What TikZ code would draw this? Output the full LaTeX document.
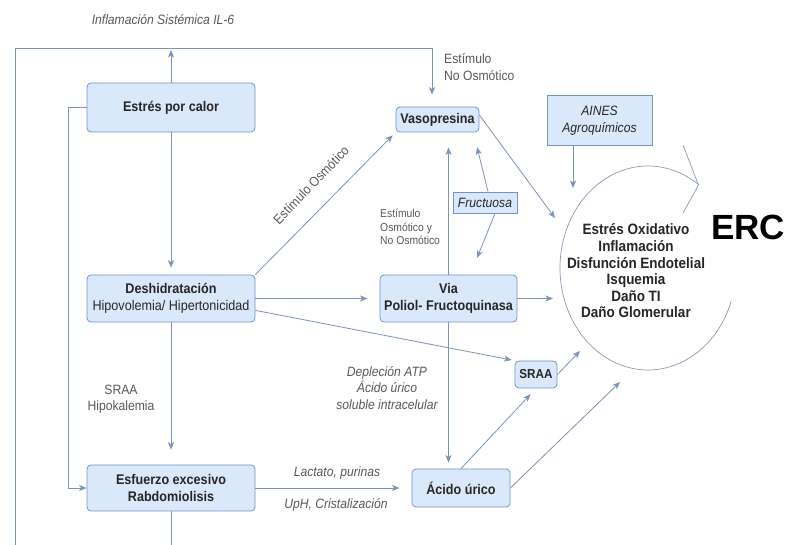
\documentclass[tikz,border=0pt]{standalone}
\usepackage{fontspec}
\setmainfont{Liberation Sans}[FakeStretch=0.9]
\newfontfamily\ercfont{Liberation Sans}
\usetikzlibrary{arrows.meta}
\definecolor{boxfill}{HTML}{DAE8FC}
\definecolor{boxdraw}{HTML}{7393C4}
\definecolor{conncol}{HTML}{7D93B8}
\definecolor{txtdark}{HTML}{262626}
\definecolor{txtgray}{HTML}{595959}
\definecolor{circcol}{HTML}{8C9BB3}
\tikzset{
  rbox/.style={rectangle, rounded corners=4pt, draw=boxdraw, fill=boxfill, line width=0.8pt,
    align=center, inner sep=0pt, text=txtdark,
    font=\fontsize{14}{17.5}\selectfont\bfseries},
  sbox/.style={rectangle, draw=boxdraw, fill=boxfill, line width=0.8pt,
    align=center, inner sep=0pt, text=txtdark,
    font=\fontsize{13.5}{16.5}\selectfont\itshape},
  lbl/.style={text=txtgray, align=center, inner sep=0pt, font=\fontsize{13.5}{16.5}\selectfont},
  ilbl/.style={lbl, font=\fontsize{13.5}{16.5}\selectfont\itshape},
  conn/.style={draw=conncol, line width=0.8pt},
  arr/.style={conn, -{Stealth[length=7.5pt,width=6pt,inset=2pt]}},
}
\begin{document}
\begin{tikzpicture}[x=1pt,y=-1pt]
\useasboundingbox (0,0) rectangle (788,545);
\fill[white] (0,0) rectangle (788,545);

% boxes
\node[rbox, minimum width=168pt, minimum height=49pt] (calor) at (171,107.5) {Estrés por calor};
\node[rbox, minimum width=168pt, minimum height=47pt] (desh) at (171,298.5)
  {Deshidratación\\\mdseries Hipovolemia/ Hipertonicidad};
\node[rbox, minimum width=168pt, minimum height=46pt] (esf) at (171,488) {Esfuerzo excesivo\\Rabdomiolisis};
\node[rbox, minimum width=83pt, minimum height=25pt] (vaso) at (437.5,119.5) {Vasopresina};
\node[rbox, minimum width=137pt, minimum height=47pt] (poliol) at (448.5,298.5) {Via\\Poliol- Fructoquinasa};
\node[rbox, minimum width=42pt, minimum height=27pt, font=\fontsize{13}{15}\selectfont\bfseries] (sraa) at (536,374.5) {SRAA};
\node[rbox, minimum width=98pt, minimum height=38pt] (acido) at (461,488) {Ácido úrico};
\node[sbox, minimum width=105pt, minimum height=50pt] (aines) at (599.5,120.5) {AINES\\Agroquímicos};
\node[sbox, minimum width=64pt, minimum height=21pt] (fruct) at (485,202.5) {Fructuosa};

% circle of damage
\coordinate (cc) at (648,268);
\draw[circcol, line width=0.7pt] (731.2,301.2) arc[start angle=19, end angle=305, x radius=88, y radius=102];
\draw[circcol, line width=0.7pt] (683,145) -- (698.5,185) -- (683,213);
\node[align=center, inner sep=0pt, text=txtdark, font=\fontsize{15}{16.6}\selectfont\bfseries] (dano) at (636,271)
  {Estrés Oxidativo\\Inflamación\\Disfunción Endotelial\\Isquemia\\Daño TI\\Daño Glomerular};
\node[inner sep=0pt, font=\ercfont\fontsize{35}{40}\selectfont\bfseries] (erc) at (748,227) {ERC};

% named points
\coordinate (topL) at (15,48);
\coordinate (topR) at (432,48);
\coordinate (botL) at (15,548);
\coordinate (lx) at (68,0);
\coordinate (fA) at (477,147);
\coordinate (fB) at (477,258);
\coordinate (tVaso) at (555,218);
\coordinate (tPoliol) at (553,298.5);
\coordinate (tAines) at (573,188);
\coordinate (tSraa) at (580,351);
\coordinate (tAcido) at (620,382);

% outer loop
\draw[conn] (esf.south) -- (esf.south |- botL);
\draw[conn] (botL) -- (topL) -- (topR);
\draw[arr, shorten >=12pt] (topR) -- (vaso.north -| topR);
\draw[arr, shorten >=2pt] (calor.north) -- (calor.north |- topL);
\draw[arr] (calor.west) -- (calor.west -| lx) |- (esf.west);

% vertical chain
\draw[arr, shorten >=7pt] (calor.south) -- (desh.north);
\draw[arr, shorten >=15pt] (desh.south) -- (esf.north);

% from deshidratacion
\draw[arr, shorten >=4pt] (desh.north east) -- (vaso.south west);
\draw[arr, shorten >=12pt] (desh.east) -- (poliol.west);
\draw[arr, shorten >=3pt] (desh.-8) -- (sraa.north west);

% poliol
\draw[arr, shorten >=15pt] (poliol.north) -- (poliol.north |- vaso.south);
\draw[arr, shorten >=6pt] (poliol.south) -- (acido.north -| poliol.south);
\draw[arr] (poliol.east) -- (tPoliol);
\draw[arr] ([xshift=3pt]fruct.north) -- (fA);
\draw[arr] ([xshift=10pt]fruct.south) -- (fB);

% to circle
\draw[arr] (vaso.6) -- (tVaso);
\draw[arr] (aines.south -| tAines) -- (tAines);
\draw[arr] (sraa.east) -- (tSraa);
\draw[arr] (acido.east) -- (tAcido);
\draw[arr, shorten >=8pt] (acido.north) -- (sraa.south);
\draw[arr, shorten >=12pt] (esf.east) -- (acido.west);

% labels
\node[ilbl] (inflam) at (163,20) {Inflamación Sistémica IL-6};
\node[lbl, anchor=west, align=left] (estno) at (444,67) {Estímulo\\No Osmótico};
\node[lbl, rotate=46] (estosm) at (311,185) {Estímulo Osmótico};
\node[lbl, anchor=west, align=left, font=\fontsize{11.5}{13.5}\selectfont] (estosmno) at (380,227)
  {Estímulo\\Osmótico y\\No Osmótico};
\node[lbl] (sraalbl) at (121,399) {SRAA\\Hipokalemia};
\node[ilbl] (deplecion) at (387,388) {Depleción ATP\\Ácido úrico\\soluble intracelular};
\node[ilbl] (lactato) at (337,473) {Lactato, purinas};
\node[ilbl] (uph) at (336,505) {UpH, Cristalización};
\end{tikzpicture}
\end{document}
